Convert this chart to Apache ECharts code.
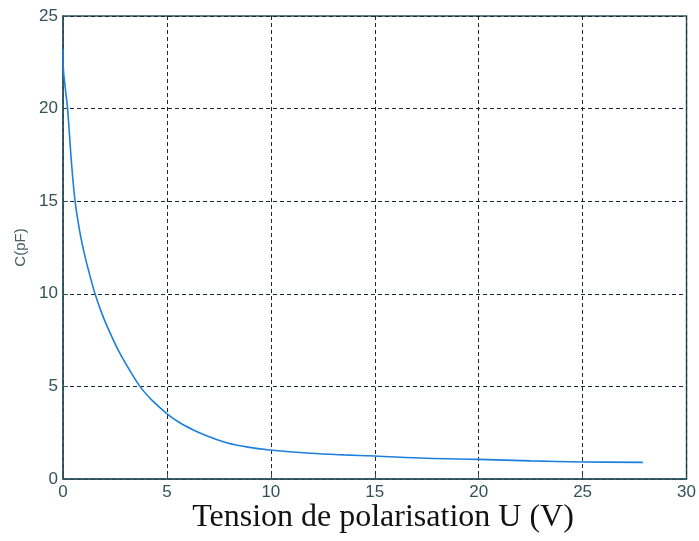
<!DOCTYPE html>
<html>
<head>
<meta charset="utf-8">
<script src="https://cdn.jsdelivr.net/npm/echarts@6/dist/echarts.min.js"></script>
<style>html,body{margin:0;padding:0;background:#fff}#c{width:699px;height:541px}</style>
</head>
<body>
<div id="c"></div>
<script>
var voltage = [0, 0.02, 0.1, 0.22, 0.4, 0.58, 0.8, 1.01, 1.22, 1.54, 1.9, 2.26, 2.65, 3.06, 3.7, 4.3, 4.98, 5.6, 6.27, 7.0, 7.87, 8.9, 9.95, 11.9, 13.5, 15, 17.5, 20, 22.5, 25, 27.9];
var capacitance = [23.2, 22.1, 21.2, 20.0, 17.2, 15.0, 13.4, 12.25, 11.3, 10.0, 8.85, 7.9, 6.97, 6.15, 5.0, 4.23, 3.55, 3.05, 2.65, 2.3, 1.96, 1.72, 1.57, 1.39, 1.3, 1.24, 1.12, 1.06, 0.98, 0.92, 0.90];
var xTicks = [0, 5, 10, 15, 20, 25, 30];
var yTicks = [0, 5, 10, 15, 20, 25];
var yName = 'C(pF)';
var xTitle = 'Tension de polarisation U (V)';

var pts = voltage.map(function (v, i) { return [v, capacitance[i]]; });
var axisCol = '#2d5560';
var labelStyle = { color: '#34525a', fontSize: 17, fontFamily: 'Liberation Sans, Arial, sans-serif' };
var chart = echarts.init(document.getElementById('c'));
chart.setOption({
  animation: false,
  backgroundColor: '#fff',
  grid: { left: 63, right: 12, top: 16, bottom: 62, show: true, borderColor: axisCol, borderWidth: 1.5 },
  xAxis: {
    type: 'value', min: xTicks[0], max: xTicks[xTicks.length - 1], interval: 5,
    axisLine: { show: true, onZero: false, lineStyle: { color: axisCol, width: 1.5 } },
    axisTick: { show: true, inside: true, length: 5, lineStyle: { color: axisCol } },
    axisLabel: Object.assign({ margin: 5 }, labelStyle),
    splitLine: { show: true, lineStyle: { color: '#1c2a30', type: [4, 3], width: 1 } }
  },
  yAxis: {
    type: 'value', min: yTicks[0], max: yTicks[yTicks.length - 1], interval: 5,
    name: yName, nameLocation: 'middle', nameGap: 30, nameRotate: 90,
    nameTextStyle: { color: '#4a5f66', fontSize: 15, fontFamily: 'Liberation Sans, Arial, sans-serif' },
    axisLine: { show: true, onZero: false, lineStyle: { color: axisCol, width: 1.5 } },
    axisTick: { show: true, inside: true, length: 5, lineStyle: { color: axisCol } },
    axisLabel: Object.assign({ margin: 5 }, labelStyle),
    splitLine: { show: true, lineStyle: { color: '#1c2a30', type: [4, 3], width: 1 } }
  },
  series: [{
    type: 'line', data: pts, showSymbol: false, smooth: 0.35,
    lineStyle: { color: '#1d7fdc', width: 1.6 }
  }],
  graphic: [{
    type: 'text', x: 383, y: 518,
    style: { text: xTitle, align: 'center', verticalAlign: 'middle',
      font: '32px "Liberation Serif", "Times New Roman", serif', fill: '#111' }
  }]
});
</script>
</body>
</html>
